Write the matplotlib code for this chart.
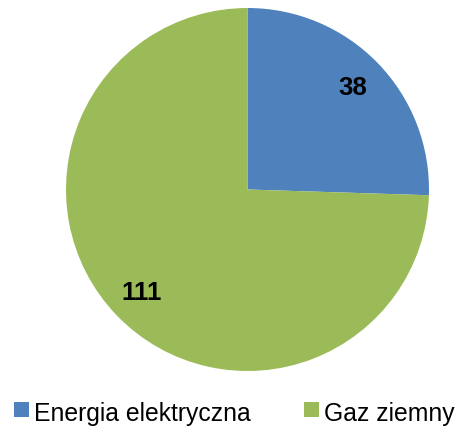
import matplotlib
matplotlib.use("Agg")
import matplotlib.pyplot as plt
from matplotlib.patches import Rectangle

labels = ["Energia elektryczna", "Gaz ziemny"]
values = [38, 111]
colors = ["#4F81BD", "#9BBB59"]

plt.rcParams["font.family"] = ["Liberation Sans", "DejaVu Sans"]

W, H = 460, 427
fig = plt.figure(figsize=(W / 100, H / 100), dpi=100)

cx, cy, r = 247.5, 427 - 190.5, 181.5
ax = fig.add_axes([(cx - r) / W, (cy - r) / H, 2 * r / W, 2 * r / H])
wedges, texts = ax.pie(
    values, colors=colors, startangle=90, counterclock=False, radius=1,
    labels=[str(v) for v in values], labeldistance=0.81,
    textprops=dict(fontsize=18.5, fontweight="bold", color="black",
                   ha="center", va="center"),
    wedgeprops=dict(linewidth=0),
)
ax.set_xlim(-1, 1)
ax.set_ylim(-1, 1)
ax.set_aspect("equal")
ax.axis("off")

# legend drawn along the bottom edge
sq = 15
for (x0, tx), lab, col in zip([(14, 34), (304, 324)], labels, colors):
    fig.patches.append(Rectangle((x0 / W, (H - 418) / H), sq / W, sq / H,
                                 transform=fig.transFigure, color=col, lw=0))
    fig.text(tx / W, (H - 421.5) / H, lab, fontsize=17.8, va="baseline",
             ha="left", color="black")

fig.savefig("out.png", dpi=100)
